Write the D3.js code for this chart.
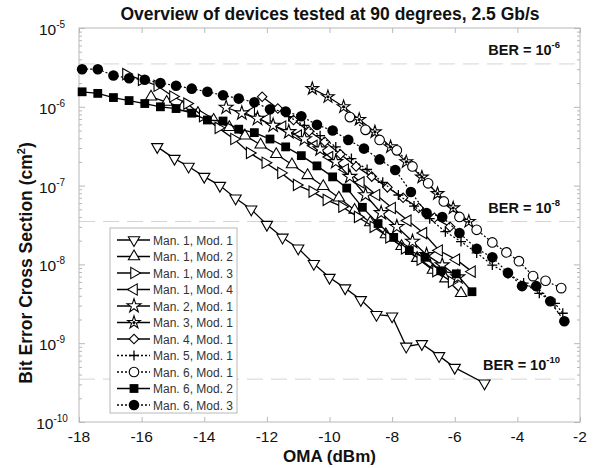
<!DOCTYPE html>
<html>
<head>
<meta charset="utf-8">
<script src="https://cdn.jsdelivr.net/npm/d3@7"></script>
<style>
body { margin: 0; background: #fff; }
svg { font-family: "Liberation Sans", Arial, sans-serif; }
</style>
</head>
<body>
<script>
var width = 594, height = 468;
var margin = {left: 79, right: 14, top: 28, bottom: 46};

// series
var seriesNames = ["Man. 1, Mod. 1", "Man. 1, Mod. 2", "Man. 1, Mod. 3", "Man. 1, Mod. 4",
	"Man. 2, Mod. 1", "Man. 3, Mod. 1", "Man. 4, Mod. 1", "Man. 5, Mod. 1",
	"Man. 6, Mod. 1", "Man. 6, Mod. 2", "Man. 6, Mod. 3"];
var seriesShapes = ["triDown", "triUp", "triRight", "triLeft", "star", "starDot", "diamond", "plus", "circleOpen", "square", "circle"];
var seriesDotted = [false, false, false, false, false, false, false, true, true, false, true];

var oma11 = [-15.5,-14.95,-14.5,-14.0,-13.5,-13.0,-12.5,-12.0,-11.5,-11.0,-10.5,-10.0,-9.5,-9.0,-8.5,-8.0,-7.55,-7.05,-6.5,-6.0,-5.05];
var xs11 = [3.1e-7,2.2e-7,1.75e-7,1.3e-7,1.0e-7,6.9e-8,5.0e-8,3.2e-8,2.2e-8,1.6e-8,1.02e-8,6.8e-9,5.0e-9,3.55e-9,2.3e-9,2.2e-9,9.1e-10,9.8e-10,6.9e-10,4.9e-10,3.1e-10];
var oma12 = [-15.7,-15.2,-14.7,-14.2,-13.7,-13.2,-12.7,-12.2,-11.7,-11.2,-10.7,-10.2,-9.7,-9.2,-8.7,-8.2,-7.7,-7.2,-6.7,-6.3,-5.8];
var xs12 = [1.34e-6,1.15e-6,9.8e-7,8.3e-7,6.8e-7,5.5e-7,4.3e-7,3.3e-7,2.5e-7,1.85e-7,1.35e-7,9.8e-8,7.0e-8,4.9e-8,3.4e-8,2.4e-8,1.7e-8,1.2e-8,8.5e-9,6.6e-9,4.3e-9];
var oma13 = [-16.5,-16.0,-15.5,-15.0,-14.55,-14.05,-13.55,-13.05,-12.55,-12.05,-11.55,-11.05,-10.55,-10.1,-9.6,-9.1,-8.6,-8.1,-7.6,-7.1,-6.6,-6.1];
var xs13 = [2.6e-6,2.2e-6,1.85e-6,1.35e-6,1.1e-6,7.6e-7,5.4e-7,3.9e-7,2.6e-7,1.95e-7,1.45e-7,1.02e-7,8.4e-8,6.6e-8,5.4e-8,4.0e-8,3.0e-8,2.2e-8,1.6e-8,1.15e-8,8.2e-9,6.0e-9];
var oma14 = [-12.5,-12.0,-11.5,-11.0,-10.5,-10.0,-9.5,-9.0,-8.5,-8.0,-7.5,-7.0,-6.5,-5.95,-5.45];
var xs14 = [8.5e-7,7.0e-7,5.6e-7,4.3e-7,3.2e-7,2.3e-7,1.6e-7,1.1e-7,7.6e-8,5.2e-8,3.6e-8,2.5e-8,1.5e-8,1.15e-8,8.1e-9];
var oma21 = [-13.3,-12.8,-12.3,-11.8,-11.3,-10.8,-10.3,-9.8,-9.35,-8.85,-8.35,-7.85,-7.35,-6.9,-6.4,-5.9];
var xs21 = [9.8e-7,8.3e-7,7.1e-7,5.8e-7,4.8e-7,3.9e-7,2.9e-7,2.0e-7,1.3e-7,7.6e-8,4.5e-8,3.0e-8,1.95e-8,1.32e-8,9.8e-9,6.9e-9];
var oma31 = [-10.55,-10.05,-9.55,-9.05,-8.55,-8.05,-7.55,-7.05,-6.55,-6.05,-5.55];
var xs31 = [1.7e-6,1.34e-6,1.0e-6,6.9e-7,4.8e-7,3.1e-7,2.0e-7,1.28e-7,7.9e-8,5.2e-8,3.5e-8];
var oma41 = [-12.15,-11.65,-11.15,-10.65,-10.15,-9.65,-9.15,-8.65,-8.15,-7.65,-7.15,-6.65,-6.15];
var xs41 = [1.34e-6,9.5e-7,6.8e-7,4.9e-7,3.6e-7,2.5e-7,1.75e-7,1.3e-7,9.5e-8,7.0e-8,5.2e-8,3.9e-8,3.0e-8];
var oma51 = [-11.3,-10.8,-10.3,-9.8,-9.3,-8.8,-8.3,-7.8,-7.3,-6.8,-6.3,-5.8,-5.3,-4.8,-4.3,-3.8,-3.3,-2.8,-2.55];
var xs51 = [7.5e-7,5.8e-7,4.3e-7,3.1e-7,2.2e-7,1.6e-7,1.1e-7,7.6e-8,5.5e-8,3.8e-8,2.6e-8,1.95e-8,1.4e-8,9.8e-9,7.6e-9,5.8e-9,4.3e-9,3.2e-9,2.4e-9];
var oma61 = [-9.35,-8.85,-8.4,-7.85,-7.35,-6.85,-6.35,-5.85,-5.3,-4.8,-4.35,-3.95,-3.5,-3.1,-2.6];
var xs61 = [7.4e-7,5.1e-7,3.8e-7,2.8e-7,1.75e-7,1.07e-7,6.3e-8,4.0e-8,2.75e-8,1.9e-8,1.42e-8,1.1e-8,7.1e-9,6.2e-9,5.0e-9];
var oma62 = [-17.9,-17.4,-16.9,-16.4,-15.9,-15.4,-14.9,-14.4,-13.9,-13.4,-12.9,-12.4,-11.9,-11.4,-10.9,-10.4,-9.9,-9.45,-8.95,-8.45,-7.95,-7.45,-6.95,-6.45,-5.95,-5.45];
var xs62 = [1.55e-6,1.48e-6,1.31e-6,1.2e-6,1.1e-6,1.0e-6,9.5e-7,8.3e-7,6.8e-7,6.6e-7,5.2e-7,4.7e-7,3.9e-7,3.1e-7,2.4e-7,1.78e-7,1.29e-7,9.3e-8,5.3e-8,3.3e-8,2.2e-8,1.5e-8,1.23e-8,8.3e-9,7.6e-9,4.5e-9];
var oma63 = [-17.9,-17.4,-16.9,-16.4,-15.9,-15.4,-14.9,-14.4,-13.9,-13.4,-12.9,-12.4,-11.9,-11.4,-10.9,-10.4,-9.9,-9.4,-8.9,-8.4,-7.9,-7.4,-6.9,-6.4,-5.85,-5.3,-4.8,-4.3,-3.85,-3.4,-2.95,-2.5];
var xs63 = [3.0e-6,3.0e-6,2.5e-6,2.3e-6,2.2e-6,2.0e-6,1.85e-6,1.7e-6,1.55e-6,1.4e-6,1.27e-6,1.14e-6,9.3e-7,8.7e-7,7.6e-7,5.9e-7,5.0e-7,3.8e-7,2.95e-7,2.15e-7,1.58e-7,8.3e-8,4.5e-8,4.0e-8,2.5e-8,1.58e-8,1.23e-8,7.8e-9,5.3e-9,5.3e-9,3.4e-9,1.9e-9];

var omaValues = [oma11, oma12, oma13, oma14, oma21, oma31, oma41, oma51, oma61, oma62, oma63];
var crossValues = [xs11, xs12, xs13, xs14, xs21, xs31, xs41, xs51, xs61, xs62, xs63];

var xTicks = [-18, -16, -14, -12, -10, -8, -6, -4, -2];
var yTickExp = [-5, -6, -7, -8, -9, -10];
var berLevels = [3.5e-6, 3.5e-8, 3.5e-10];
var berExp = ["-6", "-8", "-10"];

var x = d3.scaleLinear().domain([-18, -2]).range([margin.left, width - margin.right]);
var y = d3.scaleLog().domain([1e-10, 1e-5]).range([height - margin.bottom, margin.top]);

var svg = d3.select("body").append("svg")
	.attr("width", width)
	.attr("height", height);

function supText(sel, base, exp, expSize){
	sel.append("tspan").text(base);
	sel.append("tspan").attr("dy", -7).attr("font-size", expSize).text(exp);
}

function drawFrame(){
	var minor = [];
	for (var e = -10; e < -5; e++) {
		for (var m = 2; m < 10; m++) minor.push(m * Math.pow(10, e));
	}
	// ber lines
	svg.selectAll(".ber")
		.data(berLevels)
		.enter()
		.append("line")
		.attr("x1", x(-18)).attr("x2", x(-2))
		.attr("y1", function(d){ return y(d); })
		.attr("y2", function(d){ return y(d); })
		.attr("stroke", "#d4d4d4")
		.attr("stroke-width", 1)
		.attr("stroke-dasharray", "16,8");

	var axisCol = "#b8b8b8";
	svg.append("g")
		.attr("transform", "translate(0," + y(1e-10) + ")")
		.call(d3.axisBottom(x).tickValues(xTicks).tickSize(-5).tickFormat(""))
		.call(function(g){ g.select(".domain").remove(); g.selectAll("line").attr("stroke", axisCol); });
	svg.append("g")
		.attr("transform", "translate(0," + y(1e-5) + ")")
		.call(d3.axisTop(x).tickValues(xTicks).tickSize(-5).tickFormat(""))
		.call(function(g){ g.select(".domain").remove(); g.selectAll("line").attr("stroke", axisCol); });
	[x(-18), x(-2)].forEach(function(px, i){
		var ax = i == 0 ? d3.axisLeft(y) : d3.axisRight(y);
		svg.append("g")
			.attr("transform", "translate(" + px + ",0)")
			.call(ax.tickValues(minor).tickSize(-3).tickFormat(""))
			.call(function(g){ g.select(".domain").remove(); g.selectAll("line").attr("stroke", axisCol); });
		var ax2 = i == 0 ? d3.axisLeft(y) : d3.axisRight(y);
		svg.append("g")
			.attr("transform", "translate(" + px + ",0)")
			.call(ax2.tickValues(yTickExp.map(function(e){ return Math.pow(10, e); })).tickSize(-6).tickFormat(""))
			.call(function(g){ g.select(".domain").remove(); g.selectAll("line").attr("stroke", axisCol); });
	});
	svg.append("rect")
		.attr("x", x(-18)).attr("y", y(1e-5))
		.attr("width", x(-2) - x(-18))
		.attr("height", y(1e-10) - y(1e-5))
		.attr("fill", "none")
		.attr("stroke", axisCol)
		.attr("stroke-width", 1);

	// tick labels
	svg.selectAll(".xlab")
		.data(xTicks)
		.enter()
		.append("text")
		.attr("x", function(d){ return x(d); })
		.attr("y", y(1e-10) + 20)
		.attr("text-anchor", "middle")
		.attr("font-size", 15.5)
		.attr("fill", "#111")
		.text(function(d){ return d; });
	yTickExp.forEach(function(e){
		var t = svg.append("text")
			.attr("x", x(-18) - 27)
			.attr("y", y(Math.pow(10, e)) + 7)
			.attr("text-anchor", "middle")
			.attr("font-size", 15.5)
			.attr("fill", "#111");
		supText(t, "10", e, 10);
	});

	svg.append("text")
		.attr("x", 330).attr("y", 20)
		.attr("text-anchor", "middle")
		.attr("font-size", 17.5)
		.attr("font-weight", "bold")
		.attr("fill", "#111")
		.text("Overview of devices tested at 90 degrees, 2.5 Gb/s");
	svg.append("text")
		.attr("x", x(-10)).attr("y", 462)
		.attr("text-anchor", "middle")
		.attr("font-size", 17)
		.attr("font-weight", "bold")
		.attr("fill", "#111")
		.text("OMA (dBm)");
	var yl = svg.append("text")
		.attr("transform", "translate(32," + ((y(1e-5) + y(1e-10)) / 2 + 38) + ") rotate(-90)")
		.attr("text-anchor", "middle")
		.attr("font-size", 17.5)
		.attr("font-weight", "bold")
		.attr("fill", "#111");
	yl.append("tspan").text("Bit Error Cross Section (cm");
	yl.append("tspan").attr("dy", -7).attr("font-size", 11).text("2");
	yl.append("tspan").attr("dy", 7).text(")");

	berLevels.forEach(function(b, i){
		var t = svg.append("text")
			.attr("x", x(-2) - 20)
			.attr("y", y(b) - 9)
			.attr("text-anchor", "end")
			.attr("font-size", 14.5)
			.attr("font-weight", "bold")
			.attr("fill", "#111");
		supText(t, "BER = 10", berExp[i], 9.5);
	});
}

function drawMarker(g, shape, px, py){
	var sym = d3.symbol();
	var stroke = "#000", sw = 1.1;
	if (shape.indexOf("tri") == 0) {
		var rot = {triUp: 0, triDown: 180, triRight: 90, triLeft: -90}[shape];
		g.append("path")
			.attr("d", sym.type(d3.symbolTriangle).size(55)())
			.attr("transform", "translate(" + px + "," + py + ") rotate(" + rot + ")")
			.attr("fill", "#fff").attr("stroke", stroke).attr("stroke-width", sw);
	} else if (shape == "star" || shape == "starDot") {
		g.append("path")
			.attr("d", sym.type(d3.symbolStar).size(shape == "star" ? 60 : 50)())
			.attr("transform", "translate(" + px + "," + py + ")")
			.attr("fill", "#fff").attr("stroke", stroke).attr("stroke-width", sw);
		if (shape == "starDot") {
			g.append("circle").attr("cx", px).attr("cy", py).attr("r", 1.6).attr("fill", "#000");
		}
	} else if (shape == "diamond") {
		g.append("path")
			.attr("d", sym.type(d3.symbolSquare).size(45)())
			.attr("transform", "translate(" + px + "," + py + ") rotate(45)")
			.attr("fill", "#fff").attr("stroke", stroke).attr("stroke-width", sw);
	} else if (shape == "plus") {
		g.append("path")
			.attr("d", "M" + (px - 5) + "," + py + "H" + (px + 5) + "M" + px + "," + (py - 5) + "V" + (py + 5))
			.attr("stroke", stroke).attr("stroke-width", 1.3);
	} else if (shape == "circleOpen") {
		g.append("circle").attr("cx", px).attr("cy", py).attr("r", 4.8)
			.attr("fill", "#fff").attr("stroke", stroke).attr("stroke-width", sw);
	} else if (shape == "circle") {
		g.append("circle").attr("cx", px).attr("cy", py).attr("r", 5.3).attr("fill", "#000");
	} else if (shape == "square") {
		g.append("rect").attr("x", px - 4.4).attr("y", py - 4.4).attr("width", 8.8).attr("height", 8.8).attr("fill", "#000");
	}
}

function drawSeries(){
	var line = d3.line()
		.x(function(d){ return x(d[0]); })
		.y(function(d){ return y(d[1]); });
	seriesNames.forEach(function(name, i){
		var pts = omaValues[i].map(function(v, j){ return [v, crossValues[i][j]]; });
		var g = svg.append("g");
		g.append("path")
			.datum(pts)
			.attr("d", line)
			.attr("fill", "none")
			.attr("stroke", "#000")
			.attr("stroke-width", seriesDotted[i] ? 1.2 : 1.3)
			.attr("stroke-dasharray", seriesDotted[i] ? "2,2" : null);
		pts.forEach(function(p){
			drawMarker(g, seriesShapes[i], x(p[0]), y(p[1]));
		});
	});
}

function drawLegend(){
	var lx = 110, ly = 228, rowH = 16.5;
	svg.append("rect")
		.attr("x", lx).attr("y", ly)
		.attr("width", 127).attr("height", 185)
		.attr("fill", "#fff")
		.attr("stroke", "#b8b8b8");
	seriesNames.forEach(function(name, i){
		var g = svg.append("g");
		var cy = ly + 12 + i * rowH;
		g.append("line")
			.attr("x1", lx + 7).attr("x2", lx + 40)
			.attr("y1", cy).attr("y2", cy)
			.attr("stroke", "#000")
			.attr("stroke-width", 1.3)
			.attr("stroke-dasharray", seriesDotted[i] ? "2,2" : null);
		drawMarker(g, seriesShapes[i], lx + 24, cy);
		g.append("text")
			.attr("x", lx + 43).attr("y", cy + 4.5)
			.attr("font-size", 12)
			.attr("fill", "#333")
			.text(name);
	});
}

drawFrame();
drawSeries();
drawLegend();
</script>
</body>
</html>
